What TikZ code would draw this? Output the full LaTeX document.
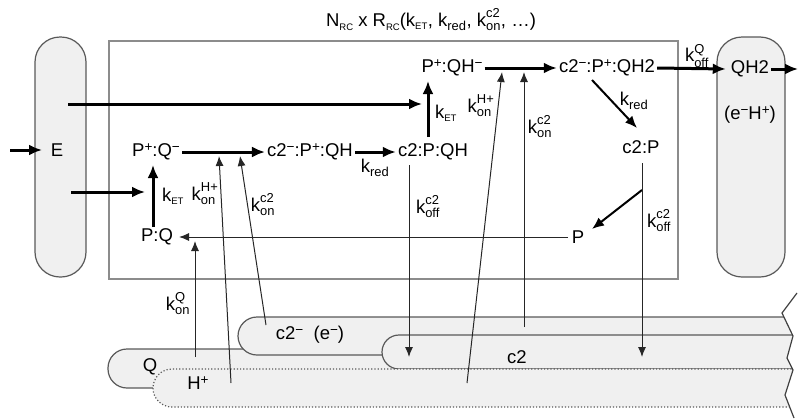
\documentclass[tikz,border=0pt]{standalone}
\usepackage{amsmath}
\usepackage{fontspec}
\setmainfont{Liberation Sans}
\usetikzlibrary{arrows.meta}
\newcommand\kk[2]{$\text{k}^{\text{#2}}_{\text{#1}}$}
\newcommand\ks[1]{$\text{k}_{\text{#1}}$}
\newcommand\hi[1]{\raisebox{0.55ex}{\fontsize{13.5}{13.5}\selectfont #1}}
\newcommand\lo[1]{\raisebox{-0.35ex}{\fontsize{9.5}{9.5}\selectfont #1}}
\newcommand\sET{{\fontsize{9.5}{9.5}\selectfont ET}}
\begin{document}
\begin{tikzpicture}[x=1pt,y=-1pt,
  txt/.style={font=\fontsize{18.5}{21}\selectfont, inner sep=2pt},
  lbl/.style={font=\fontsize{18.5}{21}\selectfont, inner sep=0pt},
  thk/.style={line width=3pt, -{Latex[length=13pt,width=11pt]}},
  med/.style={line width=2pt, -{Latex[length=12pt,width=10pt]}},
  thn/.style={line width=1pt, draw=black!85, -{Latex[length=10pt,width=8pt]}},
  band/.style={fill=black!6, draw=black!65, line width=1.2pt, rounded corners=19pt},
  pill/.style={fill=black!6, draw=black!65, line width=1.2pt, rounded corners=25pt, inner sep=0pt},
  rcbox/.style={draw=black!45, line width=2.5pt, inner sep=0pt}
]
\useasboundingbox (0,0) rectangle (798,418);

% ---- bottom bands, torn at the right edge
\begin{scope}
\clip (0,280) -- (797,280) -- (797,293) -- (782,313) -- (793,336) -- (787,358) -- (793,370) -- (785,395) -- (794,418) -- (0,418) -- cycle;
\path[band] (830,349) -- (108,349) -- (108,388) -- (830,388);
\path[band] (830,317) -- (238,317) -- (238,355) -- (830,355);
\path[band, rounded corners=17pt] (830,335) -- (382,335) -- (382,369) -- (830,369);
\path[band, dotted] (830,369) -- (153,369) -- (153,407) -- (830,407);
\end{scope}
\draw[black!75, line width=1.2pt] (797,293) -- (782,313) -- (793,336) -- (787,358) -- (793,370) -- (785,395) -- (794,418);

\node[txt] (bc2m) at (310,335) {c2\hi{−}\ \ (e\hi{−})};
\node[txt] (bc2) at (517,357) {c2};
\node[txt] (bQ) at (150,367) {Q};
\node[txt] (bH) at (198,383) {H\hi{+}};

% ---- side pills and main box
\node[pill, minimum width=51pt, minimum height=240pt] (Ebox) at (60.5,157) {};
\node[pill, minimum width=68pt, minimum height=240pt] (Qbox) at (751,157) {};
\node[rcbox, minimum width=569pt, minimum height=238pt] (rc) at (393.5,160) {};

\node[txt] (title) at (431,20) {N\lo{RC} x R\lo{RC}(\ks{\sET}, \ks{red}, \kk{on}{c2}, …)};

% ---- state nodes
\node[txt] (E) at (57,150) {E};
\node[txt] (QH2) at (750,69) {QH2};
\node[txt] (eH) at (750,115) {(e\hi{−}H\hi{+})};
\node[txt] (PpQm) at (156,152) {P\hi{+}:Q\hi{−}};
\node[txt] (c2mPpQH) at (310,152) {c2\hi{−}:P\hi{+}:QH};
\node[txt] (c2PQH) at (433,152) {c2:P:QH};
\node[txt] (PpQHm) at (452,68) {P\hi{+}:QH\hi{−}};
\node[txt] (c2mPpQH2) at (607,68) {c2\hi{−}:P\hi{+}:QH2};
\node[txt] (c2P) at (641,147) {c2:P};
\node[txt] (P) at (578,237) {P};
\node[txt] (PQ) at (157,237) {P:Q};

% ---- labels
\node[lbl] (l1) at (173,196) {\ks{\sET}};
\node[lbl] (l2) at (446,113) {\ks{\sET}};
\node[lbl] (l3) at (205,194) {\kk{on}{H+}};
\node[lbl] (l4) at (481,106) {\kk{on}{H+}};
\node[lbl] (l5) at (263,205) {\kk{on}{c2}};
\node[lbl] (l6) at (540,127) {\kk{on}{c2}};
\node[lbl] (l7) at (375,168) {\ks{red}};
\node[lbl] (l8) at (634,101) {\ks{red}};
\node[lbl] (l9) at (428,207) {\kk{off}{c2}};
\node[lbl] (l10) at (659,221) {\kk{off}{c2}};
\node[lbl] (l11) at (178,304) {\kk{on}{Q}};
\node[lbl] (l12) at (697,56) {\kk{off}{Q}};

% ---- coordinates
\coordinate (in) at (10,150);
\coordinate (inE) at (42,150);
\coordinate (eA) at (68,104);
\coordinate (eAe) at (422,104);
\coordinate (eB) at (71,192);
\coordinate (eBe) at (145,192);
\coordinate (kL1) at (153,227);
\coordinate (kL2) at (153,165);
\coordinate (kR1) at (428,137);
\coordinate (kR2) at (428,81);
\coordinate (out) at (798,69);
\coordinate (cpTop) at (642,163);
\coordinate (cpBot) at (642,357);
\coordinate (cpBr) at (642,190);
\coordinate (Pend) at (592,229);
\coordinate (PQend) at (179,237);
\coordinate (Pstart) at (568,237);
\coordinate (hL0) at (231,383);
\coordinate (hL1) at (219,156);
\coordinate (cL0) at (266,325);
\coordinate (cL1) at (240,156);
\coordinate (qL0) at (195,357);
\coordinate (qL1) at (195,241);
\coordinate (oL0) at (409,165);
\coordinate (oL1) at (409,357);
\coordinate (cR0) at (524,327);
\coordinate (cR1) at (524,72);
\coordinate (hR0) at (467,383);
\coordinate (hR1) at (502,72);
\coordinate (rd0) at (592,80);
\coordinate (rd1) at (637,128);

% ---- thick reaction arrows
\draw[thk] (in) -- (inE);
\draw[thk] (eA) -- (eAe);
\draw[thk] (eB) -- (eBe);
\draw[thk] (kL1) -- (kL2);
\draw[thk] (kR1) -- (kR2);
\draw[thk] (PpQm.east) -- (c2mPpQH.west);
\draw[thk] (c2mPpQH.east) -- (c2PQH.west);
\draw[thk] (PpQHm.east) -- (c2mPpQH2.west);
\draw[thk] (c2mPpQH2.east) -- ([xshift=-3pt]QH2.west);
\draw[thk] (QH2.east) -- (out);
\draw[med] (rd0) -- (rd1);
\draw[med] (cpBr) -- (Pend);

% ---- thin exchange arrows
\draw[thn] (cpTop) -- (cpBot);
\draw[thn] (Pstart) -- (PQend);
\draw[thn] (qL0) -- (qL1);
\draw[thn] (hL0) -- (hL1);
\draw[thn] (cL0) -- (cL1);
\draw[thn] (oL0) -- (oL1);
\draw[thn] (cR0) -- (cR1);
\draw[thn] (hR0) -- (hR1);
\end{tikzpicture}
\end{document}
